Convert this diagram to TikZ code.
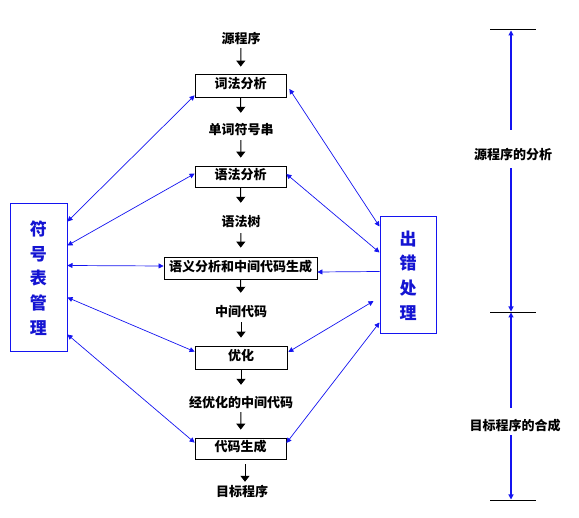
\documentclass[tikz,border=0pt]{standalone}
\usepackage{fontspec}
\newfontfamily\cjk{Noto Sans CJK SC}
\usetikzlibrary{arrows.meta}
\definecolor{lnb}{RGB}{20,20,240}
\definecolor{txb}{RGB}{20,20,210}
\begin{document}
\begin{tikzpicture}[x=1pt,y=1pt,
  lbl/.style={font=\cjk\bfseries\fontsize{13}{13}\selectfont, inner sep=0pt, text height=10pt, text depth=3pt},
  box/.style={lbl, draw=black, line width=0.8pt},
  side/.style={draw=lnb, line width=1pt, align=center, inner sep=0pt, text=txb,
    font=\cjk\bfseries\fontsize{17}{24.7}\selectfont},
  flow/.style={-{Triangle[length=6pt,width=9pt]}, line width=1pt},
  link/.style={{Triangle[length=5pt,width=5pt]}-{Triangle[length=5pt,width=5pt]}, draw=lnb, line width=0.7pt},
  onelink/.style={-{Triangle[length=5pt,width=5pt]}, draw=lnb, line width=0.7pt},
  scl/.style={-{Triangle[length=5pt,width=5pt]}, draw=lnb, line width=1.1pt},
  tick/.style={draw=black, line width=0.8pt},
]
\useasboundingbox (0,0) rectangle (579,-518);

% main column
\node[lbl] (src) at (241,-40) {源程序};
\node[box, minimum width=91pt, minimum height=23pt] (lex) at (240.5,-85.5) {词法分析};
\node[lbl] (tok) at (241,-131) {单词符号串};
\node[box, minimum width=91pt, minimum height=21pt] (syn) at (240.5,-176.5) {语法分析};
\node[lbl] (tree) at (241,-223) {语法树};
\node[box, minimum width=153pt, minimum height=22pt] (sem) at (240.5,-268) {语义分析和中间代码生成};
\node[lbl] (mid) at (241,-313) {中间代码};
\node[box, minimum width=92pt, minimum height=23pt] (opt) at (241,-357.5) {优化};
\node[lbl] (omid) at (241,-404) {经优化的中间代码};
\node[box, minimum width=91pt, minimum height=21pt] (gen) at (240.5,-448.5) {代码生成};
\node[lbl] (tgt) at (242,-493) {目标程序};

% side boxes
\node[side, minimum width=57pt, minimum height=148pt] (sym) at (38.5,-278) {符\\号\\表\\管\\理};
\node[side, minimum width=56pt, minimum height=117pt] (err) at (408,-275.5) {出\\错\\处\\理};

% flow arrows
\draw[flow, shorten <=1.5pt, shorten >=7pt] (src) -- (lex);
\draw[flow, shorten >=11.5pt] (lex) -- (tok);
\draw[flow, shorten <=2.5pt, shorten >=8pt] (tok) -- (syn);
\draw[flow, shorten >=13.5pt] (syn) -- (tree);
\draw[flow, shorten <=3.5pt, shorten >=9pt] (tree) -- (sem);
\draw[flow, shorten >=13.5pt] (sem) -- (mid);
\draw[flow, shorten <=2.5pt, shorten >=8pt] (mid) -- (opt);
\draw[flow, shorten >=12.5pt] (opt) -- (omid);
\draw[flow, shorten <=1.5pt, shorten >=8pt] (omid) -- (gen);
\draw[flow, shorten <=5pt, shorten >=4.5pt] ([xshift=4.5pt]gen.south) -- ([xshift=3pt]tgt.north);

% symbol table links
\draw[link] ([yshift=-18pt]sym.north east) -- ([yshift=2pt]lex.south west);
\draw[link] ([yshift=-42pt]sym.north east) -- ([yshift=-8pt]syn.north west);
\draw[link] ([yshift=-62pt]sym.north east) -- ([yshift=2pt]sem.west);
\draw[link] ([yshift=-94pt]sym.north east) -- ([yshift=-6pt]opt.north west);
\draw[link] ([yshift=-131pt]sym.north east) -- ([yshift=-5pt]gen.north west);

% error handling links
\draw[link] ([yshift=-10pt]err.north west) -- ([xshift=3pt,yshift=-3.5pt]lex.east);
\draw[link] ([yshift=-36pt]err.north west) -- ([yshift=2.5pt]syn.east);
\draw[onelink] ([yshift=-55pt]err.north west) -- ([yshift=-4pt]sem.east);
\draw[link, shorten <=7pt] ([yshift=-81pt]err.north west) -- ([xshift=1pt,yshift=5.5pt]opt.east);
\draw[link] ([yshift=-106pt]err.north west) -- ([yshift=5.5pt]gen.east);

% right scale
\coordinate (h1) at (511,-29);
\coordinate (h2) at (511,-312);
\coordinate (h3) at (511,-500);
\draw[tick] ([xshift=-21pt]h1) -- ([xshift=25pt]h1);
\draw[tick] ([xshift=-21pt]h2) -- ([xshift=25pt]h2);
\draw[tick] ([xshift=-21pt]h3) -- ([xshift=25pt]h3);
\node[lbl] (ana) at (513,-156) {源程序的分析};
\node[lbl] (cmp) at (515,-427) {目标程序的合成};
\draw[scl, shorten <=19.5pt, shorten >=1.5pt] (ana.north -| h1) -- (h1);
\draw[scl, shorten <=5.5pt, shorten >=0.5pt] (ana.south -| h1) -- (h2);
\draw[scl, shorten <=12.5pt, shorten >=0.5pt] (cmp.north -| h2) -- (h2);
\draw[scl, shorten <=1.5pt, shorten >=0.5pt] (cmp.south -| h3) -- (h3);
\end{tikzpicture}
\end{document}
